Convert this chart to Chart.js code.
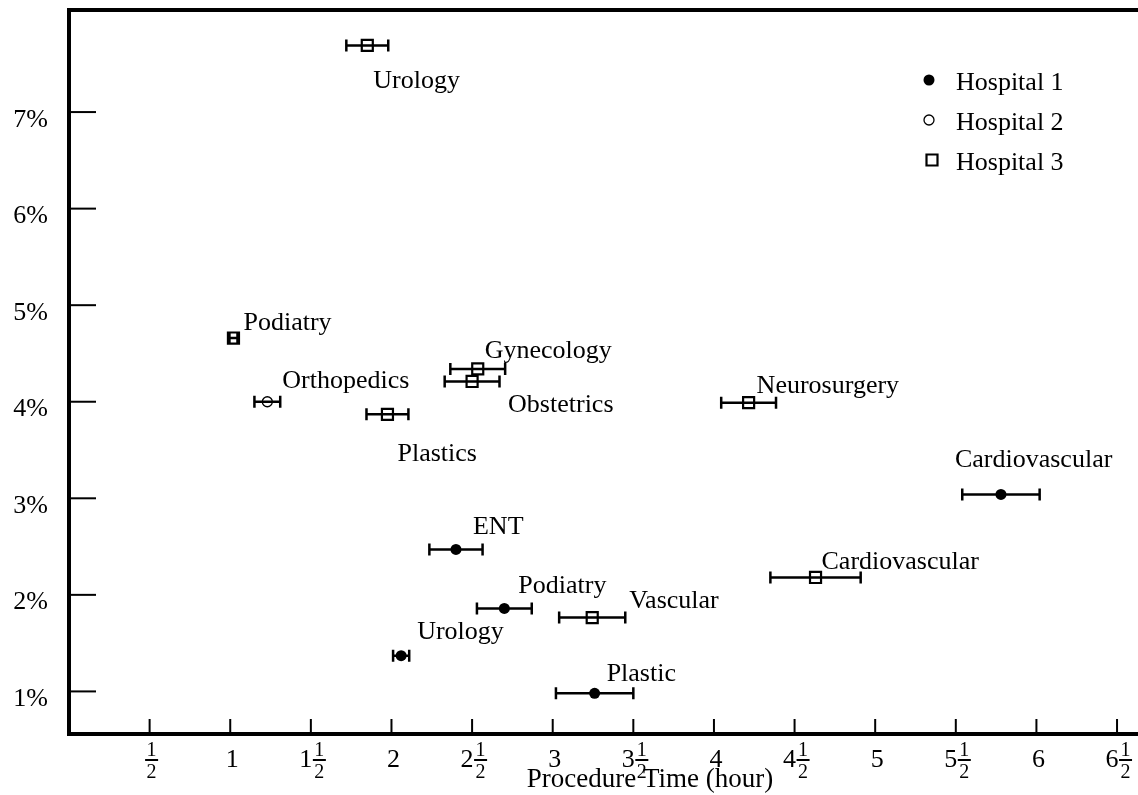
<!DOCTYPE html>
<html>
<head>
<meta charset="utf-8">
<script src="https://cdn.jsdelivr.net/npm/chart.js@4.4.1/dist/chart.umd.min.js"></script>
<style>
  html, body { margin: 0; padding: 0; background: #fff; }
  canvas { display: block; }
</style>
</head>
<body>
<canvas id="ChartProcedure" width="1138" height="795"></canvas>
<script>
// Hospital 1
var h1Names = ["Cardiovascular", "ENT", "Podiatry", "Urology", "Plastic"];
var h1Time = [5.78, 2.40, 2.70, 2.06, 3.26];
var h1Rate = [3.04, 2.47, 1.86, 1.37, 0.98];
var h1Err = [0.24, 0.165, 0.17, 0.05, 0.24];

// Hospital 2
var h2Names = ["Orthopedics"];
var h2Time = [1.23];
var h2Rate = [4.00];
var h2Err = [0.08];

// Hospital 3
var h3Names = ["Urology", "Podiatry", "Gynecology", "Obstetrics", "Plastics", "Neurosurgery", "Cardiovascular", "Vascular"];
var h3Time = [1.85, 1.02, 2.535, 2.50, 1.975, 4.215, 4.63, 3.245];
var h3Rate = [7.69, 4.66, 4.34, 4.21, 3.87, 3.99, 2.18, 1.765];
var h3Err = [0.13, 0.025, 0.17, 0.17, 0.13, 0.17, 0.28, 0.205];

var xTicks = [0.5, 1, 1.5, 2, 2.5, 3, 3.5, 4, 4.5, 5, 5.5, 6, 6.5];
var yTicks = [1, 2, 3, 4, 5, 6, 7];
var xTitle = "Procedure Time (hour)";

// where each department name sits relative to its marker (px)
var h1LabelOff = [[-46, -27], [17, -15], [14, -15], [16, -17], [12, -12]];
var h2LabelOff = [[15, -14]];
var h3LabelOff = [[6, 43], [10, -8], [7, -11], [36, 31], [10, 47], [8, -10], [6, -8], [37, -10]];

var FONT = "'Liberation Serif', 'Times New Roman', serif";

function points(xs, ys) {
    return xs.map(function (x, i) { return { x: x, y: ys[i] }; });
}

// horizontal error bars with caps; hollow markers let the bar show through
var errorBars = {
    id: 'errorBars',
    beforeDatasetsDraw: function (chart) {
        var ctx = chart.ctx, sx = chart.scales.x, sy = chart.scales.y;
        ctx.save();
        ctx.strokeStyle = '#000';
        ctx.lineWidth = 2.5;
        chart.data.datasets.forEach(function (ds) {
            ds.data.forEach(function (p, i) {
                var e = ds.errors[i];
                var x0 = sx.getPixelForValue(p.x - e);
                var x1 = sx.getPixelForValue(p.x + e);
                var y = sy.getPixelForValue(p.y);
                ctx.beginPath();
                ctx.moveTo(x0, y); ctx.lineTo(x1, y);
                ctx.moveTo(x0, y - 6); ctx.lineTo(x0, y + 6);
                ctx.moveTo(x1, y - 6); ctx.lineTo(x1, y + 6);
                ctx.stroke();
            });
        });
        ctx.restore();
    }
};

function drawMarker(ctx, kind, x, y) {
    ctx.save();
    ctx.strokeStyle = '#000';
    if (kind === 1) {
        ctx.fillStyle = '#000';
        ctx.beginPath(); ctx.arc(x, y, 5.5, 0, Math.PI * 2); ctx.fill();
    } else if (kind === 2) {
        ctx.lineWidth = 1.3;
        ctx.beginPath(); ctx.arc(x, y, 5, 0, Math.PI * 2); ctx.stroke();
    } else {
        ctx.lineWidth = 2.2;
        ctx.beginPath(); ctx.rect(x - 5.5, y - 5.5, 11, 11); ctx.stroke();
    }
    ctx.restore();
}

// frame, ticks, fraction tick labels, department names and legend
var decorations = {
    id: 'decorations',
    afterDraw: function (chart) {
        var ctx = chart.ctx, sx = chart.scales.x, sy = chart.scales.y;
        var a = chart.chartArea;
        ctx.save();
        ctx.strokeStyle = '#000';
        ctx.fillStyle = '#000';

        // axis lines
        ctx.lineWidth = 4;
        ctx.beginPath();
        ctx.moveTo(a.right, a.top); ctx.lineTo(a.left, a.top);
        ctx.lineTo(a.left, a.bottom); ctx.lineTo(a.right, a.bottom);
        ctx.stroke();

        // y ticks + labels
        ctx.lineWidth = 2;
        ctx.font = '26px ' + FONT;
        ctx.textAlign = 'right';
        ctx.textBaseline = 'alphabetic';
        yTicks.forEach(function (v) {
            var y = sy.getPixelForValue(v);
            ctx.beginPath(); ctx.moveTo(a.left, y); ctx.lineTo(a.left + 27, y); ctx.stroke();
            ctx.fillText(v + '%', 48, y + 14.5);
        });

        // x ticks + labels (halves as stacked fractions)
        xTicks.forEach(function (v) {
            var x = sx.getPixelForValue(v);
            ctx.beginPath(); ctx.moveTo(x, a.bottom); ctx.lineTo(x, a.bottom - 15); ctx.stroke();
            var whole = Math.floor(v);
            var half = v - whole > 0;
            ctx.font = '26px ' + FONT;
            var wTxt = whole > 0 ? String(whole) : '';
            var wW = wTxt ? ctx.measureText(wTxt).width : 0;
            var fW = half ? 14 : 0;
            var left = x + 2 - (wW + fW) / 2;
            ctx.textAlign = 'left';
            if (wTxt) ctx.fillText(wTxt, left, a.bottom + 33);
            if (half) {
                var fl = left + wW;
                var fc = fl + fW / 2;
                ctx.font = '20px ' + FONT;
                ctx.textAlign = 'center';
                ctx.fillText('1', fc, a.bottom + 22);
                ctx.fillRect(fl + 0.5, a.bottom + 25, fW - 1, 2);
                ctx.fillText('2', fc, a.bottom + 44);
            }
        });

        // axis title
        ctx.font = '27px ' + FONT;
        ctx.textAlign = 'center';
        ctx.fillText(xTitle, 650, 787);

        // department names
        ctx.font = '26px ' + FONT;
        ctx.textAlign = 'left';
        var groups = [[h1Names, h1LabelOff, 0], [h2Names, h2LabelOff, 1], [h3Names, h3LabelOff, 2]];
        groups.forEach(function (g) {
            var ds = chart.data.datasets[g[2]];
            g[0].forEach(function (name, i) {
                var p = ds.data[i];
                var px = sx.getPixelForValue(p.x), py = sy.getPixelForValue(p.y);
                ctx.fillText(name, px + g[1][i][0], py + g[1][i][1]);
            });
        });

        // legend
        var legY = [80, 120, 160];
        chart.data.datasets.forEach(function (ds, i) {
            drawMarker(ctx, i + 1, i === 2 ? 932 : 929, legY[i]);
            ctx.fillStyle = '#000';
            ctx.fillText(ds.label, 956, legY[i] + 10);
        });
        ctx.restore();
    }
};

new Chart(document.getElementById('ChartProcedure'), {
    type: 'scatter',
    data: {
        datasets: [
            {
                label: 'Hospital 1',
                data: points(h1Time, h1Rate),
                errors: h1Err,
                pointStyle: 'circle',
                pointRadius: 5.5,
                backgroundColor: '#000',
                borderColor: '#000',
                borderWidth: 0,
            },
            {
                label: 'Hospital 2',
                data: points(h2Time, h2Rate),
                errors: h2Err,
                pointStyle: 'circle',
                pointRadius: 5,
                backgroundColor: 'rgba(0,0,0,0)',
                borderColor: '#000',
                borderWidth: 1.3,
            },
            {
                label: 'Hospital 3',
                data: points(h3Time, h3Rate),
                errors: h3Err,
                pointStyle: 'rect',
                pointRadius: 7.8,
                backgroundColor: 'rgba(0,0,0,0)',
                borderColor: '#000',
                borderWidth: 2.2,
            },
        ]
    },
    options: {
        responsive: false,
        animation: false,
        layout: { autoPadding: false, padding: { left: 69, top: 10, right: 0, bottom: 61 } },
        scales: {
            x: { type: 'linear', min: 0, max: 6.63, display: false },
            y: { type: 'linear', min: 0.559, max: 8.057, display: false }
        },
        plugins: {
            legend: { display: false },
            tooltip: { enabled: false }
        },
        elements: { point: { hoverRadius: 5.5 } }
    },
    plugins: [errorBars, decorations]
});
</script>
</body>
</html>
